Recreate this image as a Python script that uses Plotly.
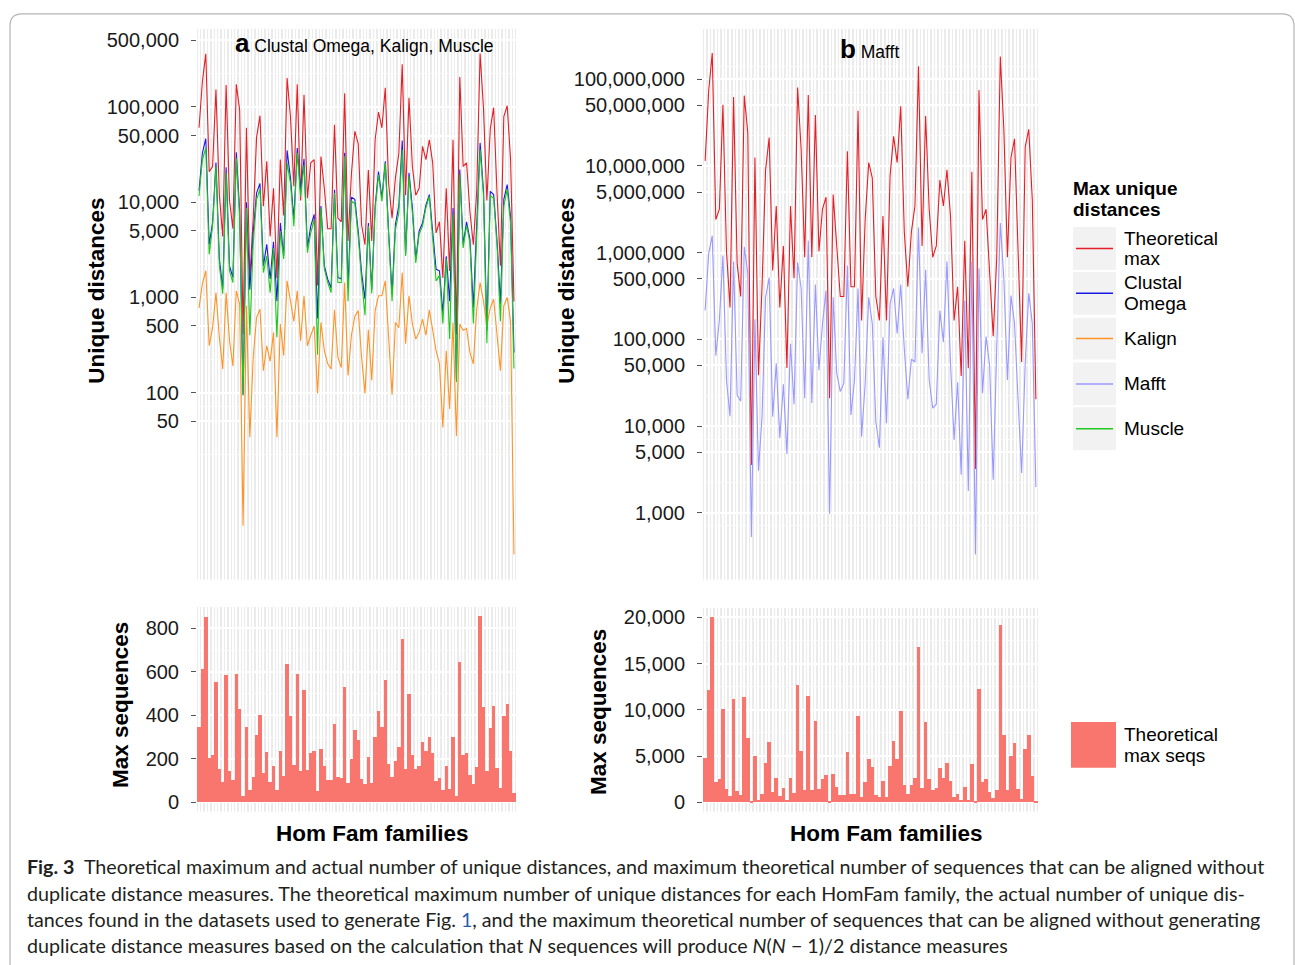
import plotly.graph_objects as go
import math

W, H = 1295, 965

families = list(range(1, 95))

# ---- panel a: Clustal Omega, Kalign, Muscle ----
theoretical_max_a = [60400, 186000, 361000, 20900, 23700, 152000, 11800, 4370, 170000, 10400,
                     5250, 173000, 92700, 406, 60400, 1600, 6790, 48200, 81000, 9050,
                     26800, 4370, 14000, 1600, 28000, 7260, 201000, 79000, 14700, 173000,
                     10400, 134000, 11000, 25900, 28000, 1330, 30100, 14000, 5250, 5250,
                     65000, 6790, 6220, 139000, 3920, 19900, 55600, 41300, 5780, 3570,
                     21700, 3920, 45200, 88400, 60400, 159000, 15600, 6790, 18100, 32400,
                     280000, 11800, 125000, 23700, 11800, 14000, 38500, 28000, 45200, 25900,
                     4750, 6220, 1600, 14000, 1890, 45200, 406, 206000, 23700, 25900,
                     7880, 3570, 13200, 365000, 96600, 10400, 58700, 98300, 12400, 2150,
                     79000, 103000, 28000, 903]
clustal = [13200, 33000, 46400, 3600, 6050, 26000, 2530, 1230, 23300, 2140,
           1620, 33400, 8000, 95, 10000, 1200, 4770, 12500, 15700, 2140,
           3600, 1560, 3830, 910, 6050, 2700, 35000, 17900, 6640, 37000,
           13000, 28500, 3320, 5600, 7440, 600, 9100, 2140, 1550, 1250,
           13500, 1620, 1560, 33000, 1260, 11300, 10700, 4980, 1820, 955,
           6050, 1200, 9100, 21000, 11100, 26900, 4770, 1090, 5900, 9100,
           44500, 2830, 20300, 8700, 2500, 4980, 6050, 9300, 12000, 4770,
           1970, 1900, 680, 2700, 910, 8700, 140, 22000, 3600, 6200,
           4070, 780, 5600, 41900, 13000, 450, 13000, 12000, 3900, 855,
           10700, 15300, 7000, 263]
kalign = [775, 1400, 1900, 310, 480, 1120, 380, 177, 1120, 350,
          190, 1170, 850, 4, 815, 34, 235, 617, 750, 170,
          310, 213, 428, 34, 525, 245, 1490, 910, 560, 1170,
          350, 1040, 310, 400, 500, 98, 545, 275, 200, 177,
          740, 235, 183, 1430, 151, 400, 630, 725, 235, 98,
          455, 135, 725, 1040, 1040, 1490, 350, 95, 545, 480,
          1820, 325, 1040, 525, 365, 428, 590, 400, 740, 450,
          275, 200, 43, 275, 67, 545, 35, 525, 450, 470,
          263, 200, 750, 1430, 910, 500, 775, 955, 400, 170,
          815, 1000, 560, 2]
muscle = [11600, 28000, 37000, 2830, 5600, 23800, 2140, 1090, 20300, 1900,
          1430, 29000, 7000, 93, 8700, 400, 3750, 10700, 13600, 1820,
          2720, 1120, 3300, 380, 4980, 2530, 25800, 15900, 5600, 33000,
          11500, 24700, 2950, 4770, 6600, 250, 8700, 1990, 1430, 1120,
          12500, 1430, 1430, 30400, 910, 10200, 9700, 4400, 1550, 650,
          5600, 1100, 8400, 19400, 10200, 25800, 4400, 910, 5200, 7700,
          35600, 2720, 18700, 7700, 2300, 4600, 5600, 8700, 11500, 4400,
          1490, 1700, 530, 2530, 365, 7400, 128, 19400, 3300, 5700,
          3750, 530, 4770, 35600, 11700, 330, 11700, 11000, 3500, 560,
          9100, 13600, 6050, 179]
max_seqs_a = [348, 611, 850, 205, 218, 551, 154, 94, 583, 145,
              103, 588, 431, 29, 348, 57, 117, 311, 403, 135,
              232, 94, 168, 57, 237, 121, 634, 398, 172, 588,
              145, 518, 149, 228, 237, 52, 246, 168, 103, 103,
              361, 117, 112, 528, 89, 200, 334, 288, 108, 85,
              209, 89, 301, 421, 348, 564, 177, 117, 191, 255,
              749, 154, 500, 218, 154, 168, 278, 237, 301, 228,
              98, 112, 57, 168, 62, 301, 29, 643, 218, 228,
              126, 85, 163, 855, 440, 145, 343, 444, 158, 66,
              398, 454, 237, 43]

# ---- panel b: Mafft ----
theoretical_max_b = [11.44e6, 73.47e6, 200e6, 2.406e6, 3.169e6, 50.72e6, 1.035e6, 0.233e6, 62.17e6, 0.747e6,
                     0.312e6, 64.6e6, 24.09e6, 3570, 12.5e6, 38500, 0.404e6, 9.008e6, 21.19e6, 0.621e6,
                     3.447e6, 0.233e6, 1.196e6, 46800, 3.447e6, 0.506e6, 80.16e6, 15.34e6, 0.885e6, 65.83e6,
                     0.885e6, 38.51e6, 1.035e6, 3.169e6, 4.35e6, 21000, 4.671e6, 1.369e6, 0.312e6, 0.312e6,
                     14.75e6, 0.404e6, 0.404e6, 43.39e6, 0.165e6, 2.406e6, 10.93e6, 7.267e6, 0.312e6, 0.165e6,
                     2.649e6, 0.165e6, 7.685e6, 21.9e6, 10.93e6, 48.57e6, 1.747e6, 0.404e6, 1.747e6, 3.447e6,
                     140.5e6, 1.196e6, 37.57e6, 3.169e6, 0.885e6, 1.196e6, 6.862e6, 3.447e6, 9.008e6, 2.649e6,
                     0.165e6, 0.404e6, 37800, 1.369e6, 46400, 8.555e6, 3200, 74.78e6, 2.406e6, 3.169e6,
                     0.621e6, 0.109e6, 0.885e6, 183.1e6, 26.39e6, 0.885e6, 12.5e6, 20.5e6, 1.035e6, 54800,
                     16.56e6, 26.39e6, 4.037e6, 20400]
mafft = [215000, 980000, 1570000, 65000, 166000, 925000, 34000, 13000, 790000, 22700,
         19500, 1170000, 575000, 525, 170000, 3060, 12800, 306000, 515000, 12800,
         53000, 7300, 30300, 4770, 89000, 17900, 775000, 386000, 21000, 1380000,
         18500, 428000, 44000, 152000, 365000, 975, 306000, 41000, 25000, 31000,
         710000, 13400, 34000, 386000, 7560, 31000, 306000, 152000, 11200, 5630,
         106000, 10800, 258000, 386000, 117000, 428000, 78500, 20400, 59000, 54800,
         1950000, 69000, 635000, 34000, 16100, 17900, 215000, 93000, 790000, 53000,
         6900, 32000, 2740, 280000, 1790, 790000, 330, 660000, 24000, 108000,
         50000, 2400, 81000, 2200000, 500000, 34000, 320000, 152000, 20000, 2880,
         53000, 340000, 152000, 1990]
max_seqs_b = [4784, 12122, 20000, 2194, 2518, 10072, 1439, 683, 11151, 1223,
              791, 11367, 6942, 85, 5000, 277, 899, 4245, 6511, 1115,
              2626, 683, 1547, 306, 2626, 1007, 12662, 5539, 1331, 11475,
              1331, 8777, 1439, 2518, 2950, 205, 3057, 1655, 791, 791,
              5431, 899, 899, 9316, 575, 2194, 4676, 3813, 791, 575,
              2302, 575, 3921, 6619, 4676, 9856, 1870, 899, 1870, 2626,
              16762, 1547, 8669, 2518, 1331, 1547, 3705, 2626, 4245, 2302,
              575, 899, 275, 1655, 305, 4137, 80, 12230, 2194, 2518,
              1115, 468, 1331, 19137, 7266, 1331, 5000, 6403, 1439, 331,
              5755, 7266, 2842, 202]

ticks_a = [50, 100, 500, 1000, 5000, 10000, 50000, 100000, 500000]
ticks_b = [1000, 5000, 10000, 50000, 100000, 500000, 1000000, 5000000, 10000000, 50000000, 100000000]
ticks_bar_a = [0, 200, 400, 600, 800]
ticks_bar_b = [0, 5000, 10000, 15000, 20000]

COL = {
    "Theoretical max": "#E41F26",
    "Clustal Omega": "#1A1AE6",
    "Kalign": "#FF9326",
    "Mafft": "#9999FF",
    "Muscle": "#1EC81E",
}
BAR = "#F8766D"
PANEL_BG = "#EBEBEB"
FONT = "Liberation Sans, Arial, Helvetica, sans-serif"


def px(x):
    return x / W


def py(y):
    return 1 - y / H


def fmt(v):
    return f"{v:,}"


def minor_log(ticks, lo, hi):
    vals = []
    lt = [math.log10(t) for t in ticks]
    for a, b in zip(lt[:-1], lt[1:]):
        vals.append(10 ** ((a + b) / 2))
    vals.insert(0, 10 ** (lt[0] - (lt[2] - lt[1]) / 2))
    vals.append(10 ** (lt[-1] + (lt[-1] - lt[-2]) / 2))
    return [v for v in vals if lo <= math.log10(v) <= hi]


fig = go.Figure()

for name, ys in [("Theoretical max", theoretical_max_a), ("Clustal Omega", clustal),
                 ("Kalign", kalign), ("Muscle", muscle)]:
    fig.add_trace(go.Scatter(x=families, y=ys, mode="lines", name=name,
                             line=dict(color=COL[name], width=1.1),
                             xaxis="x", yaxis="y", showlegend=False))
for name, ys in [("Theoretical max", theoretical_max_b), ("Mafft", mafft)]:
    fig.add_trace(go.Scatter(x=families, y=ys, mode="lines", name=name,
                             line=dict(color=COL[name], width=1.1),
                             xaxis="x2", yaxis="y2", showlegend=False))
fig.add_trace(go.Bar(x=families, y=max_seqs_a, marker=dict(color=BAR, line=dict(width=0)),
                     width=1, xaxis="x3", yaxis="y3", showlegend=False))
fig.add_trace(go.Bar(x=families, y=max_seqs_b, marker=dict(color=BAR, line=dict(width=0)),
                     width=1, xaxis="x4", yaxis="y4", showlegend=False))

xcommon = dict(range=[0.4, 94.6], tickmode="linear", tick0=1, dtick=1, showticklabels=False,
               ticks="", showgrid=True, gridcolor="white", gridwidth=1.5, zeroline=False,
               showline=False)
ycommon = dict(ticks="outside", ticklen=5, tickwidth=1.2, tickcolor="#555555",
               tickfont=dict(family=FONT, size=20, color="#1a1a1a"), showgrid=True,
               gridcolor="white", gridwidth=1.6, zeroline=False, showline=False,
               ticklabelstandoff=8)

ra = [0.035, 5.82]
rb = [2.23, 8.58]

fig.update_layout(
    width=W, height=H, margin=dict(l=0, r=0, t=0, b=0),
    paper_bgcolor="white", plot_bgcolor=PANEL_BG, bargap=0,
    font=dict(family=FONT, color="black"),
    xaxis=dict(domain=[px(197), px(516)], anchor="y", **xcommon),
    xaxis2=dict(domain=[px(703), px(1038)], anchor="y2", **xcommon),
    xaxis3=dict(domain=[px(197), px(516)], anchor="y3", **xcommon),
    xaxis4=dict(domain=[px(703), px(1038)], anchor="y4", **xcommon),
    yaxis=dict(domain=[py(580), py(27)], anchor="x", type="log", range=ra,
               tickvals=ticks_a, ticktext=[fmt(t) for t in ticks_a],
               minor=dict(tickvals=minor_log(ticks_a, *ra), showgrid=True, gridcolor="#F7F7F7",
                          gridwidth=0.8, ticks=""),
               **ycommon),
    yaxis2=dict(domain=[py(580), py(27)], anchor="x2", type="log", range=rb,
                tickvals=ticks_b, ticktext=[fmt(t) for t in ticks_b],
                minor=dict(tickvals=minor_log(ticks_b, *rb), showgrid=True, gridcolor="#F7F7F7",
                           gridwidth=0.8, ticks=""),
                **ycommon),
    yaxis3=dict(domain=[py(813), py(607.5)], anchor="x3", range=[-42.75, 897.75],
                tickvals=ticks_bar_a, ticktext=[fmt(t) for t in ticks_bar_a],
                minor=dict(tickvals=[100, 300, 500, 700], showgrid=True, gridcolor="#F7F7F7",
                           gridwidth=0.8, ticks=""),
                **ycommon),
    yaxis4=dict(domain=[py(813), py(608.5)], anchor="x4", range=[-1000, 21000],
                tickvals=ticks_bar_b, ticktext=[fmt(t) for t in ticks_bar_b],
                minor=dict(tickvals=[2500, 7500, 12500, 17500], showgrid=True, gridcolor="#F7F7F7",
                           gridwidth=0.8, ticks=""),
                **ycommon),
)

ann = []


def text(x, y, s, size, bold=False, angle=0, xanchor="center", yanchor="middle", color="black",
         family=FONT):
    if bold:
        s = f"<b>{s}</b>"
    ann.append(dict(x=px(x), y=py(y), xref="paper", yref="paper", text=s, showarrow=False,
                    font=dict(size=size, color=color, family=family), textangle=angle,
                    xanchor=xanchor, yanchor=yanchor, align="left"))


# axis titles
text(97, 290, "Unique distances", 22.5, bold=True, angle=-90)
text(567, 290, "Unique distances", 22.5, bold=True, angle=-90)
text(120, 706, "Max sequences", 22.5, bold=True, angle=-90)
text(598, 713, "Max sequences", 22.5, bold=True, angle=-90)
text(372, 835, "Hom Fam families", 22.5, bold=True)
text(886, 835, "Hom Fam families", 22.5, bold=True)

# panel titles
ann.append(dict(x=px(364.5), y=py(41), xref="paper", yref="paper", showarrow=False,
                text="<b><span style='font-size:26px'>a</span></b> Clustal Omega, Kalign, Muscle",
                font=dict(size=17.5, family=FONT, color="black"), xanchor="center", yanchor="middle"))
ann.append(dict(x=px(869), y=py(47), xref="paper", yref="paper", showarrow=False,
                text="<b><span style='font-size:26px'>b</span></b> Mafft",
                font=dict(size=17.5, family=FONT, color="black"), xanchor="center", yanchor="middle"))

# legend (manual)
shapes = []
text(1071, 187, "Max unique", 19, bold=True, xanchor="left")
text(1071, 208, "distances", 19, bold=True, xanchor="left")
legend_items = [("Theoretical max", ["Theoretical", "max"], 226, 269),
                ("Clustal Omega", ["Clustal", "Omega"], 271, 314),
                ("Kalign", ["Kalign"], 317, 359),
                ("Mafft", ["Mafft"], 362, 405),
                ("Muscle", ["Muscle"], 407, 450)]
for key, label, y0, y1 in legend_items:
    shapes.append(dict(type="rect", xref="paper", yref="paper", x0=px(1073), x1=px(1116),
                       y0=py(y1), y1=py(y0), fillcolor="#F2F2F2", line=dict(width=0), layer="above"))
    ym = (y0 + y1) / 2
    shapes.append(dict(type="line", xref="paper", yref="paper", x0=px(1076), x1=px(1113),
                       y0=py(ym), y1=py(ym), line=dict(color=COL[key], width=1.5), layer="above"))
    if len(label) == 2:
        text(1122, ym - 10.5, label[0], 19, xanchor="left")
        text(1122, ym + 10.5, label[1], 19, xanchor="left")
    else:
        text(1122, ym, label[0], 19, xanchor="left")

shapes.append(dict(type="rect", xref="paper", yref="paper", x0=px(1071), x1=px(1116),
                   y0=py(769), y1=py(723), fillcolor=BAR, line=dict(width=0), layer="above"))
text(1122, 736, "Theoretical", 19, xanchor="left")
text(1122, 757, "max seqs", 19, xanchor="left")

# outer rounded border
x0, x1, yt, r = 10, 1294, 12, 12
path = (f"M {px(x0)},{py(980)} L {px(x0)},{py(yt + r)} Q {px(x0)},{py(yt)} {px(x0 + r)},{py(yt)} "
        f"L {px(x1 - r)},{py(yt)} Q {px(x1)},{py(yt)} {px(x1)},{py(yt + r)} L {px(x1)},{py(980)}")
shapes.append(dict(type="path", xref="paper", yref="paper", path=path,
                   line=dict(color="#B5B5B5", width=1.2), layer="above"))

# caption
CAP = "Lato, Liberation Sans, sans-serif"
cap_lines = [
    (868, "<b>Fig. 3</b>  Theoretical maximum and actual number of unique distances, and maximum theoretical number of sequences that can be aligned without"),
    (895, "duplicate distance measures. The theoretical maximum number of unique distances for each HomFam family, the actual number of unique dis-"),
    (921, "tances found in the datasets used to generate Fig. <span style='color:#2A5CAA'>1</span>, and the maximum theoretical number of sequences that can be aligned without generating"),
    (947, "duplicate distance measures based on the calculation that <i>N</i> sequences will produce <i>N</i>(<i>N</i> − 1)/2 distance measures"),
]
for y, s in cap_lines:
    text(25, y, s, 19.7, xanchor="left", color="#231F20", family=CAP)

fig.update_layout(annotations=ann, shapes=shapes)
fig.write_html("out.html")
